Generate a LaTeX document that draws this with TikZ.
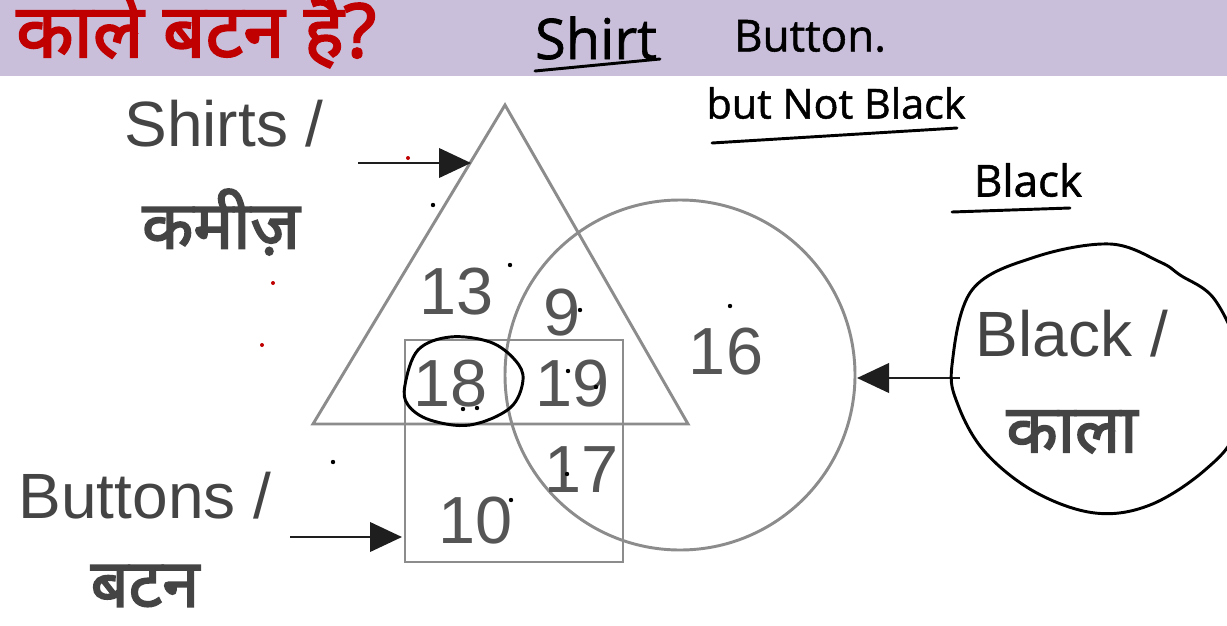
\documentclass[tikz,border=0pt]{standalone}
\usepackage{fontspec}
\setmainfont{Liberation Sans}
\newfontfamily\deva[Script=Devanagari, FakeBold=2.5]{Noto Sans}
\newfontfamily\hand[FakeBold=1.2]{Open Sans}
\usetikzlibrary{arrows.meta}
\definecolor{band}{RGB}{201,191,218}
\definecolor{titlered}{RGB}{192,0,0}
\definecolor{shapegray}{RGB}{140,140,140}
\definecolor{labelgray}{RGB}{68,68,68}
\definecolor{numgray}{RGB}{85,85,85}
\definecolor{arrowgray}{RGB}{30,30,30}
\tikzset{
  setline/.style={draw=shapegray, line width=2.2pt},
  numlbl/.style={text=numgray, font=\fontsize{50}{52}\selectfont, inner sep=0pt},
  catlbl/.style={text=labelgray, font=\fontsize{48}{50}\selectfont, inner sep=0pt},
  devlbl/.style={text=labelgray, font=\deva\fontsize{50}{54}\selectfont, inner sep=0pt},
  pointer/.style={draw=arrowgray, line width=2.2pt, -{Triangle[length=24pt,width=22pt]}},
  ink/.style={draw=black, line width=2.2pt, line cap=round, line join=round},
  handtxt/.style={text=black, inner sep=0pt},
  reddot/.style={fill=titlered, circle, inner sep=0pt, minimum size=3pt}
}
\begin{document}
\begin{tikzpicture}[x=0.75pt, y=-0.75pt]
\useasboundingbox (0,0) rectangle (1227,625);
\fill[white] (0,0) rectangle (1227,625);
% header band
\fill[band] (0,0) rectangle (1227,76);
\node[anchor=west, text=titlered, font=\deva\fontsize{56}{60}\selectfont, inner sep=0pt] (title) at (16,29) {काले बटन है?};
% handwriting in band
\node[handtxt, font=\hand\fontsize{42}{44}\selectfont] (hshirt) at (596,38) {Shirt};
\node[handtxt, font=\hand\fontsize{33}{36}\selectfont] (hbutton) at (810,36) {Button.};
\coordinate (u1a) at (535,71); \coordinate (u1b) at (660,59);
\draw[ink] (u1a) -- (u1b);
\node[handtxt, font=\hand\fontsize{31}{34}\selectfont] (hnot) at (836,103) {but Not Black};
\coordinate (u2a) at (712,143); \coordinate (u2b) at (957,128);
\draw[ink] (u2a) -- (u2b);
\node[handtxt, font=\hand\fontsize{33}{36}\selectfont] (hblack) at (1028,180) {Black};
\coordinate (u3a) at (952,212); \coordinate (u3b) at (1070,208);
\draw[ink] (u3a) -- (u3b);
% sets
\draw[setline] (505,105) -- (688,424) -- (313,424) -- cycle;
\draw[setline] (680,375) circle[radius=175];
\draw[setline] (405,340) rectangle (623,562);
% numbers
\node[numlbl] (n13) at (457,292) {13};
\node[numlbl] (n9) at (562,313) {9};
\node[numlbl] (n18) at (451,384) {18};
\node[numlbl] (n19) at (573,384) {19};
\node[numlbl] (n16) at (726,352) {16};
\node[numlbl] (n17) at (582,470) {17};
\node[numlbl] (n10) at (476,521) {10};
% labels
\node[catlbl] (lshirts) at (224,124) {Shirts /};
\node[devlbl] (lkamiz) at (221,222) {कमीज़};
\node[catlbl] (lbuttons) at (145,496) {Buttons /};
\node[devlbl] (lbatan) at (145,586) {बटन};
\node[catlbl] (lblack) at (1072,334) {Black /};
\node[devlbl] (lkala) at (1072,432) {काला};
% pointers
\coordinate (sa) at (358,163); \coordinate (sb) at (471,163);
\draw[pointer] (sa) -- (sb);
\coordinate (ba) at (290,537); \coordinate (bb) at (402,537);
\draw[pointer] (ba) -- (bb);
\coordinate (ka) at (960,378); \coordinate (kb) at (857,378);
\draw[pointer] (ka) -- (kb);
% ink loops
\draw[ink] plot[smooth cycle, tension=0.6] coordinates {(405,385) (418,350) (450,337) (490,342) (515,360) (523,380) (510,408) (470,425) (430,420) (408,405)};
\draw[ink] plot[smooth cycle, tension=0.6] coordinates {(952,365) (972,290) (1035,257) (1110,244) (1160,262) (1180,275) (1215,300) (1240,360) (1236,430) (1205,470) (1150,505) (1095,513) (1035,492) (985,452) (958,405)};
% stray dots
\node[reddot] (r1) at (408,158) {};
\node[reddot] (r2) at (273,283) {};
\node[reddot] (r3) at (262,345) {};
\foreach \p in {(433,205),(510,265),(580,310),(730,306),(333,462),(568,371),(596,387),(463,409),(477,408),(567,474),(511,500)} {
  \fill[black] \p circle[radius=2.2];
}
\end{tikzpicture}
\end{document}
